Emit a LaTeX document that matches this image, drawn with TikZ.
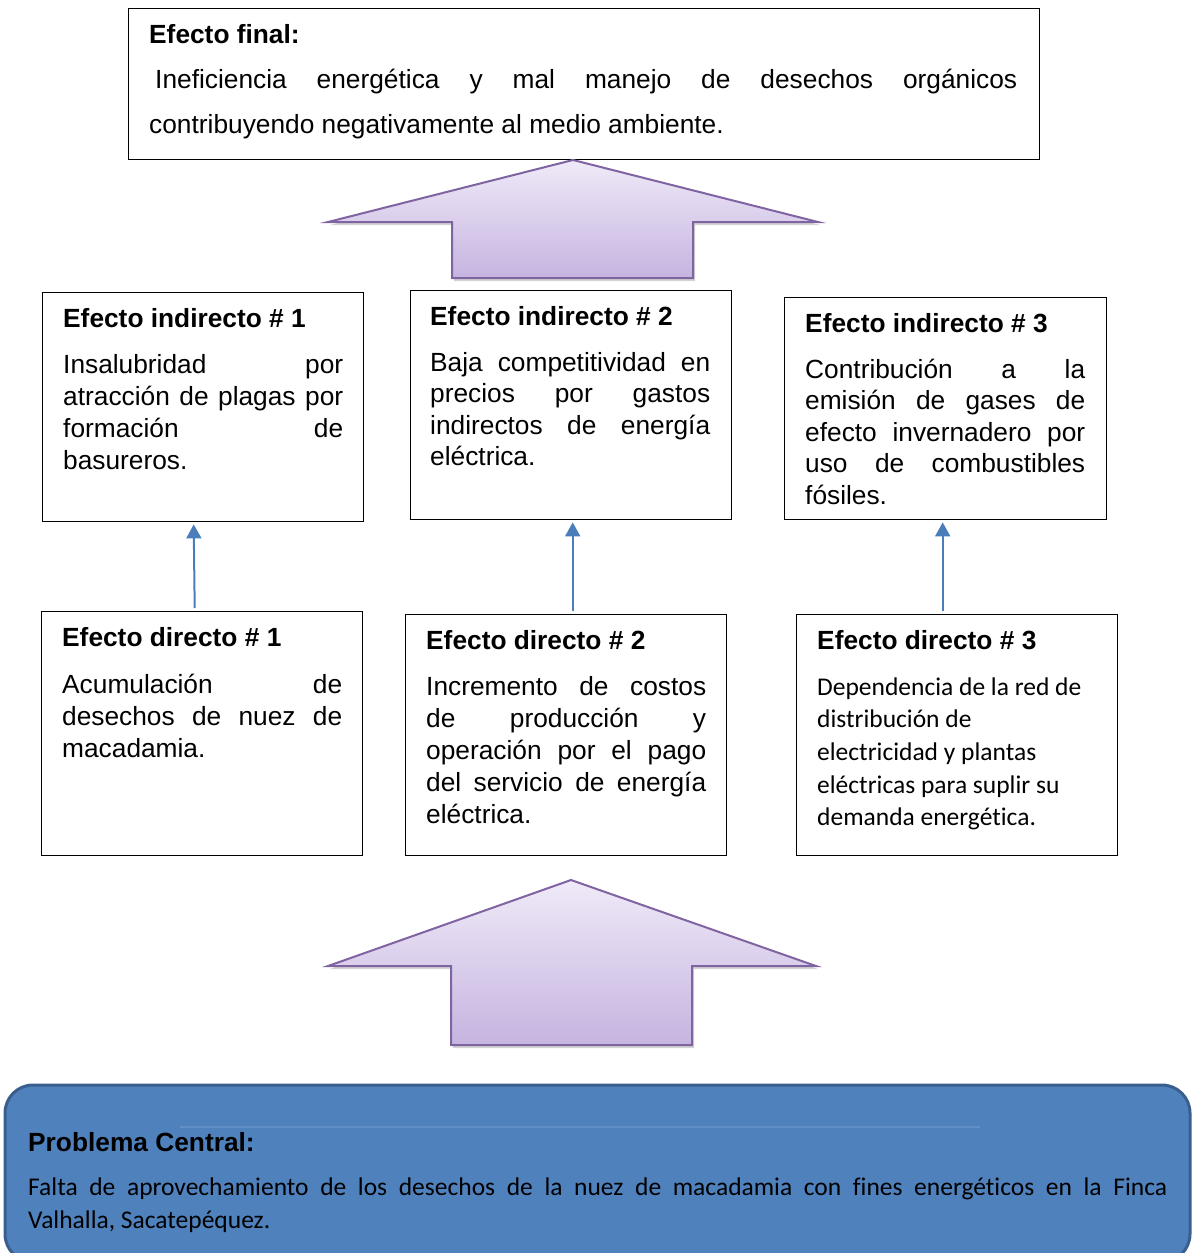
\documentclass[tikz,border=0pt]{standalone}
\usepackage{fontspec}
\setmainfont{Liberation Sans}
\newfontfamily\calibfont[Ligatures=NoCommon]{Carlito}
\usetikzlibrary{calc,shadows,arrows.meta}
\definecolor{arrowline}{HTML}{8064A2}
\definecolor{arrowtop}{HTML}{EFEAF8}
\definecolor{arrowbot}{HTML}{C6B4E0}
\definecolor{connblue}{HTML}{4A7EBB}
\definecolor{probfill}{HTML}{4F81BD}
\definecolor{probline}{HTML}{3A5F8E}
\tikzset{
  box/.style={draw=black, line width=1.4pt, inner sep=0pt, anchor=north west},
  txt/.style={anchor=base west, inner sep=0pt},
  link/.style={draw=connblue, line width=2pt, -{Triangle[width=15pt,length=14pt]}},
  bigarrow/.style={draw=arrowline, line width=2pt, top color=arrowtop, bottom color=arrowbot,
    line join=miter, drop shadow={opacity=0.35, shadow xshift=2pt, shadow yshift=-3pt}}
}
\newcommand\mytitle[1]{{\fontsize{26.3}{32}\selectfont\bfseries #1}}
\newcommand\mybody[3]{\parbox[t]{#1}{\fontsize{26.3}{#2}\selectfont\hyphenpenalty=10000\exhyphenpenalty=10000\tolerance=10000\hbadness=10000 #3}}
\newcommand\mycbody[3]{\parbox[t]{#1}{\calibfont\fontsize{25.5}{#2}\selectfont\hyphenpenalty=10000\exhyphenpenalty=10000\tolerance=10000\hbadness=10000 #3}}
\begin{document}
\begin{tikzpicture}[x=1pt,y=-1pt]
\useasboundingbox (0,0) rectangle (1192,1253);

% final effect
\node[box, minimum width=911pt, minimum height=151pt] (final) at (128,8) {};
\node[txt] (finalT) at ($(final.north west)+(21,35)$) {\mytitle{Efecto final:}};
\node[txt] (finalB) at ($(final.north west)+(21,80)$) {\mybody{868pt}{45.5pt}{\hspace*{6pt}Ineficiencia energética y mal manejo de desechos orgánicos\linebreak contribuyendo negativamente al medio ambiente.}};

% big arrow 1
\path[bigarrow] (573,160) -- (818,222) -- (693,222) -- (693,278) -- (452,278) -- (452,222) -- (328,222) -- cycle;

% indirect effects
\node[box, minimum width=321pt, minimum height=229pt] (i1) at (42,292) {};
\node[txt] (i1T) at ($(i1.north west)+(21,35)$) {\mytitle{Efecto indirecto \# 1}};
\node[txt] (i1B) at ($(i1.north west)+(21,81)$) {\mybody{280pt}{32pt}{Insalubridad por\linebreak atracción de plagas por\linebreak formación de\linebreak basureros.}};

\node[box, minimum width=321pt, minimum height=229pt] (i2) at (410,290) {};
\node[txt] (i2T) at ($(i2.north west)+(20,35)$) {\mytitle{Efecto indirecto \# 2}};
\node[txt] (i2B) at ($(i2.north west)+(20,81)$) {\mybody{280pt}{31.5pt}{Baja competitividad en\linebreak precios por gastos\linebreak indirectos de energía\linebreak eléctrica.}};

\node[box, minimum width=322pt, minimum height=222pt] (i3) at (784,297) {};
\node[txt] (i3T) at ($(i3.north west)+(21,35)$) {\mytitle{Efecto indirecto \# 3}};
\node[txt] (i3B) at ($(i3.north west)+(21,81)$) {\mybody{280pt}{31.5pt}{Contribución a la\linebreak emisión de gases de\linebreak efecto invernadero por\linebreak uso de combustibles\linebreak fósiles.}};

% direct effects
\node[box, minimum width=321pt, minimum height=244pt] (d1) at (41,611) {};
\node[txt] (d1T) at ($(d1.north west)+(21,35)$) {\mytitle{Efecto directo \# 1}};
\node[txt] (d1B) at ($(d1.north west)+(21,82)$) {\mybody{280pt}{32pt}{Acumulación de\linebreak desechos de nuez de\linebreak macadamia.}};

\node[box, minimum width=321pt, minimum height=241pt] (d2) at (405,614) {};
\node[txt] (d2T) at ($(d2.north west)+(21,35)$) {\mytitle{Efecto directo \# 2}};
\node[txt] (d2B) at ($(d2.north west)+(21,81)$) {\mybody{280pt}{32pt}{Incremento de costos\linebreak de producción y\linebreak operación por el pago\linebreak del servicio de energía\linebreak eléctrica.}};

\node[box, minimum width=321pt, minimum height=241pt] (d3) at (796,614) {};
\node[txt] (d3T) at ($(d3.north west)+(21,35)$) {\mytitle{Efecto directo \# 3}};
\node[txt] (d3B) at ($(d3.north west)+(21,81)$) {\mycbody{290pt}{32.7pt}{\raggedright Dependencia de la red de\\ distribución de\\ electricidad y plantas\\ eléctricas para suplir su\\ demanda energética.}};

% connectors
\draw[link] ([xshift=-7.5pt,yshift=3pt]d1.north) -- ([xshift=-9.5pt,yshift=-2pt]i1.south);
\draw[link] ([xshift=6.5pt,yshift=3pt]d2.north) -- ([xshift=1.5pt,yshift=-2pt]i2.south);
\draw[link] ([xshift=-14.5pt,yshift=3pt]d3.north) -- ([xshift=-3pt,yshift=-2pt]i3.south);

% big arrow 2
\path[bigarrow] (571,880) -- (816,966) -- (692,966) -- (692,1045) -- (451,1045) -- (451,966) -- (328,966) -- cycle;

% central problem
\draw[rounded corners=28pt, fill=probfill, draw=probline, line width=3pt] (5,1085) rectangle (1190,1262);
\draw[draw=probfill!80!white, line width=1.2pt, opacity=0.5] (180,1127) -- (980,1127);
\node[txt] (probT) at (28,1151) {\mytitle{Problema Central:}};
\node[txt] (probB) at (28,1195) {\mycbody{1139pt}{33pt}{Falta de aprovechamiento de los desechos de la nuez de macadamia con fines energéticos en la Finca\linebreak Valhalla, Sacatepéquez.}};
\end{tikzpicture}
\end{document}
